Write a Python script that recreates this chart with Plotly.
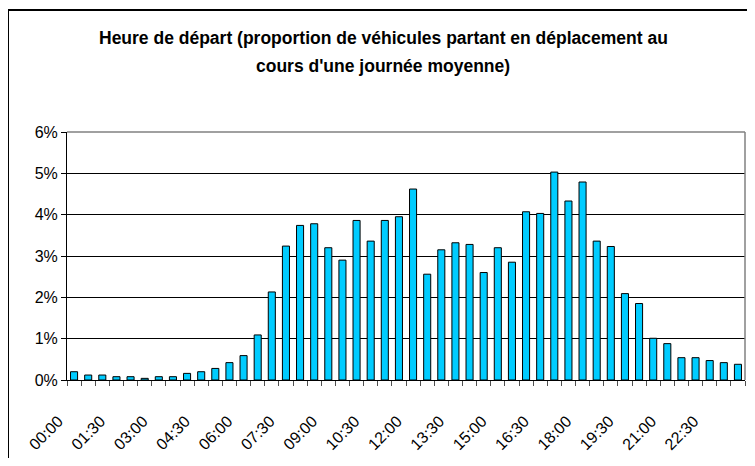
import plotly.graph_objects as go

hours = [f"{h:02d}:{m:02d}" for h in range(24) for m in (0, 30)]
values = [0.20, 0.12, 0.12, 0.08, 0.08, 0.04, 0.08, 0.08, 0.16, 0.20,
          0.28, 0.42, 0.59, 1.09, 2.13, 3.24, 3.74, 3.78, 3.20, 2.90,
          3.86, 3.36, 3.86, 3.95, 4.62, 2.56, 3.15, 3.32, 3.28, 2.60,
          3.20, 2.85, 4.07, 4.03, 5.03, 4.33, 4.79, 3.36, 3.23, 2.09,
          1.85, 1.01, 0.88, 0.54, 0.54, 0.47, 0.42, 0.38]
shares = [v / 100 for v in values]
positions = list(range(len(hours)))
label_idx = positions[::3]
label_text = [hours[i] + "\u00a0" * 5 for i in label_idx]
boundaries = [i - 0.5 for i in range(len(hours) + 1)]
title_lines = ["Heure de départ (proportion de véhicules partant en déplacement au",
               "cours d'une journée moyenne)"]

OFF = 8  # browser default body margin
W, H = 739, 450
L, R, T, B = 67 - OFF, 745 - OFF, 132 - OFF, 380 - OFF

fig = go.Figure()
fig.add_trace(go.Bar(
    x=positions, y=shares, customdata=hours,
    marker=dict(color="#00CCFF", line=dict(color="black", width=1)),
    width=0.5, hovertemplate="%{customdata}: %{y:.2%}<extra></extra>",
))

title_font = dict(family="Liberation Sans, Arial", size=17.5, color="black", weight="bold")
annotations = [
    dict(text=line, xref="paper", yref="paper",
         x=(383 - OFF - L) / (R - L), y=(B - (yc - OFF)) / (B - T),
         xanchor="center", yanchor="middle", showarrow=False, font=title_font)
    for line, yc in zip(title_lines, [38, 66])
]

fig.update_layout(
    width=W, height=H,
    margin=dict(l=L, r=W - R, t=T, b=H - B, pad=0),
    paper_bgcolor="white", plot_bgcolor="white",
    showlegend=False,
    font=dict(family="Liberation Sans, Arial", size=16, color="black"),
    xaxis=dict(type="linear", tickmode="array", tickvals=label_idx, ticktext=label_text,
               tickangle=-45, ticks="outside", ticklen=5,
               tickcolor="rgba(0,0,0,0)", ticklabelstandoff=4,
               minor=dict(tickmode="array", tickvals=boundaries, ticks="outside",
                          ticklen=5, tickcolor="#505050", tickwidth=1.2,
                          showgrid=False),
               showline=True, linecolor="black", linewidth=1,
               showgrid=False, zeroline=False, range=[-0.5, 47.5],
               automargin=False, tickfont=dict(size=16)),
    yaxis=dict(range=[0, 0.06], dtick=0.01, tickformat=".0%", ticks="outside",
               ticklen=5, tickcolor="black", showline=True, linecolor="black",
               linewidth=1, showgrid=True, gridcolor="black", gridwidth=1,
               zeroline=False, automargin=False, tickfont=dict(size=16)),
    annotations=annotations,
    shapes=[
        dict(type="line", xref="paper", yref="paper", x0=0, x1=1, y0=1, y1=1,
             line=dict(color="#808080", width=1.5)),
        dict(type="line", xref="paper", yref="paper", x0=1, x1=1, y0=0, y1=1,
             line=dict(color="#808080", width=1.5)),
        dict(type="rect", xref="paper", yref="paper",
             x0=(8 - OFF - L) / (R - L), x1=(800 - L) / (R - L),
             y0=(B - 520) / (B - T), y1=(B - (10 - OFF)) / (B - T),
             line=dict(color="black", width=2), fillcolor="rgba(0,0,0,0)"),
    ],
)

fig.write_html("out.html")
